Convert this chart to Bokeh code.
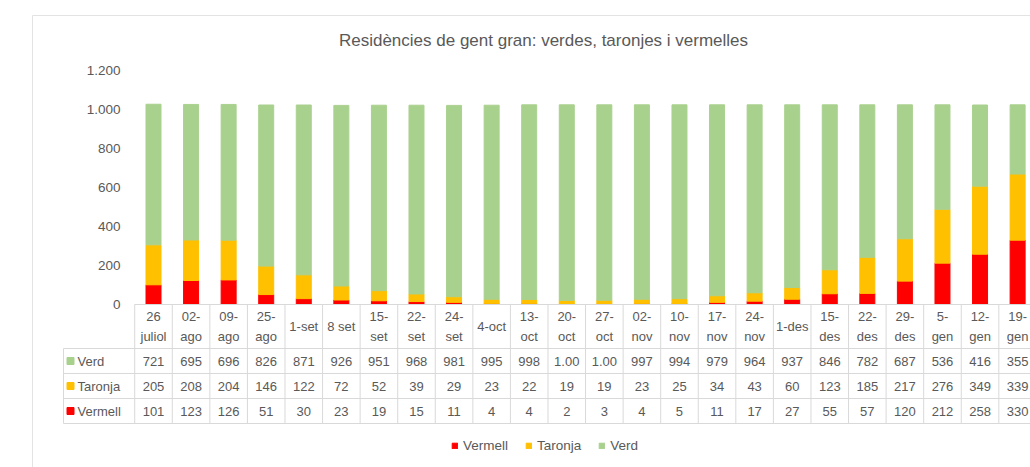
from bokeh.plotting import figure
from bokeh.models import Range1d, ColumnDataSource
from bokeh.embed import file_html
from bokeh.resources import INLINE
from bokeh.core.properties import value

# ---------------- data ----------------
categories = ["26\njuliol", "02-\nago", "09-\nago", "25-\nago", "1-set", "8 set",
              "15-\nset", "22-\nset", "24-\nset", "4-oct", "13-\noct", "20-\noct",
              "27-\noct", "02-\nnov", "10-\nnov", "17-\nnov", "24-\nnov", "1-des",
              "15-\ndes", "22-\ndes", "29-\ndes", "5-\ngen", "12-\ngen", "19-\ngen"]
verd = [721, 695, 696, 826, 871, 926, 951, 968, 981, 995, 998, 1003,
        1002, 997, 994, 979, 964, 937, 846, 782, 687, 536, 416, 355]
taronja = [205, 208, 204, 146, 122, 72, 52, 39, 29, 23, 22, 19,
           19, 23, 25, 34, 43, 60, 123, 185, 217, 276, 349, 339]
vermell = [101, 123, 126, 51, 30, 23, 19, 15, 11, 4, 4, 2,
           3, 4, 5, 11, 17, 27, 55, 57, 120, 212, 258, 330]
y_ticks = [0, 200, 400, 600, 800, 1000, 1200]
title_text = "Residències de gent gran: verdes, taronjes i vermelles"

# ---------------- style / layout ----------------
W, H = 1030, 467
GREEN, ORANGE, RED = "#A9D18E", "#FFC000", "#FF0000"
TXT = "#595959"
GRID = "#D9D9D9"
FONT = "Liberation Sans"
col_px = 37.57          # pixels per category
first_center = 153.0    # screen x of first category
zero_px, ppu = 304.0, 0.195

def fmt(v):
    return f"{v:,}".replace(",", ".")[:4]

def tick_fmt(v):
    return f"{v:,}".replace(",", ".")

n = len(categories)
idx = list(range(n))

p = figure(width=W, height=H, output_backend="svg", toolbar_location=None,
           x_range=Range1d((0 - first_center) / col_px, (W - first_center) / col_px),
           y_range=Range1d((zero_px - H) / ppu, zero_px / ppu),
           x_axis_type=None, y_axis_type=None, min_border=0)
p.extra_x_ranges = {"px": Range1d(0, W)}
p.extra_y_ranges = {"px": Range1d(H, 0)}
p.outline_line_color = None
p.xgrid.visible = False
p.ygrid.visible = False

# outer chart frame
p.segment(x0=[32, 32], y0=[15, 15], x1=[32, 1040], y1=[470, 15],
          x_range_name="px", y_range_name="px", line_color="#E3E3E3", line_width=1)

# title
p.text(x=[543], y=[40], text=[title_text], x_range_name="px", y_range_name="px",
       text_font=value(FONT), text_font_size="17px", text_color=TXT,
       text_align="center", text_baseline="middle")

# y tick labels
p.text(x=[120] * len(y_ticks), y=y_ticks, text=[tick_fmt(t) for t in y_ticks],
       x_range_name="px", text_font=value(FONT), text_font_size="13.5px",
       text_color=TXT, text_align="right", text_baseline="middle")

# stacked bars
src = ColumnDataSource(dict(x=idx, Vermell=vermell, Taronja=taronja, Verd=verd))
p.vbar_stack(["Vermell", "Taronja", "Verd"], x="x", width=15 / col_px,
             color=[RED, ORANGE, GREEN], source=src,
             legend_label=["Vermell", "Taronja", "Verd"])

# ---------------- data table ----------------
row_lines = [348, 373, 398, 423]
row_centers = [360.5, 385.5, 410.5]
p.segment(x0=[134] + [63] * 4, y0=[304] + row_lines, x1=[1040] * 5, y1=[304] + row_lines,
          x_range_name="px", y_range_name="px", line_color=GRID, line_width=1)
bounds = [i - 0.5 for i in range(n + 1)]
p.segment(x0=bounds, y0=[304] * len(bounds), x1=bounds, y1=[423] * len(bounds),
          y_range_name="px", line_color=GRID, line_width=1)
p.segment(x0=[63], y0=[348], x1=[63], y1=[423], x_range_name="px", y_range_name="px",
          line_color=GRID, line_width=1)

# header labels
p.text(x=idx, y=[326] * n, text=categories, y_range_name="px",
       text_font=value(FONT), text_font_size="13px", text_color=TXT,
       text_align="center", text_baseline="middle", text_line_height=1.3)

# values
for series, yc in zip([verd, taronja, vermell], row_centers):
    p.text(x=idx, y=[yc] * n, text=[fmt(v) for v in series], y_range_name="px",
           text_font=value(FONT), text_font_size="13px", text_color=TXT,
           text_align="center", text_baseline="middle")

# row labels with keys
row_names = ["Verd", "Taronja", "Vermell"]
p.scatter(x=[70] * 3, y=row_centers, marker="square", size=7,
          color=[GREEN, ORANGE, RED], x_range_name="px", y_range_name="px")
p.text(x=[77] * 3, y=row_centers, text=row_names, x_range_name="px", y_range_name="px",
       text_font=value(FONT), text_font_size="13px", text_color=TXT,
       text_align="left", text_baseline="middle")

# ---------------- legend ----------------
lg = p.legend[0]
lg.orientation = "horizontal"
lg.location = (451, 14)
lg.border_line_color = None
lg.background_fill_alpha = 0
lg.padding = 0
lg.margin = 0
lg.glyph_width = 7
lg.glyph_height = 7
lg.label_height = 12
lg.label_standoff = 5
lg.spacing = 17
lg.label_text_font = FONT
lg.label_text_font_size = "13.5px"
lg.label_text_color = TXT

open("out.html", "w").write(file_html(p, INLINE))
